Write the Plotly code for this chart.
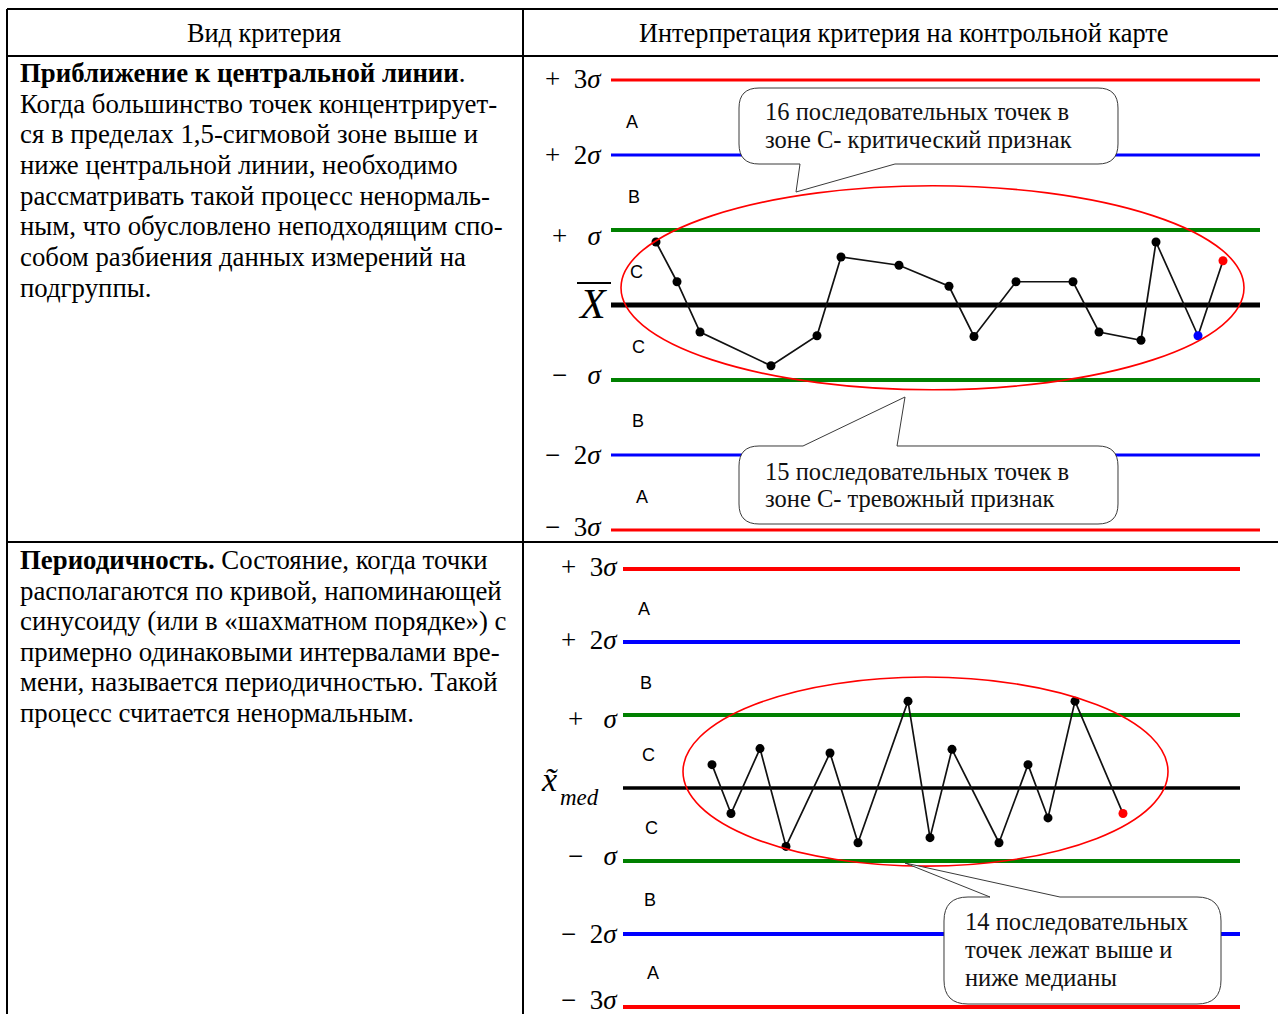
import plotly.graph_objects as go

W, H = 1278, 1014

# ---------------- data ----------------
# control limit levels (in sigma units) and their colours
limit_levels = [3, 2, 1, 0, -1, -2, -3]
limit_colors = ["#ff0000", "#0000ff", "#008000", "#000000", "#008000", "#0000ff", "#ff0000"]
limit_labels = ["+&nbsp;&nbsp;3<i>σ</i>", "+&nbsp;&nbsp;2<i>σ</i>", "+&nbsp;&nbsp;&nbsp;<i>σ</i>", "",
                "−&nbsp;&nbsp;&nbsp;<i>σ</i>", "−&nbsp;&nbsp;2<i>σ</i>", "−&nbsp;&nbsp;3<i>σ</i>"]
zone_labels = ["A", "B", "C", "C", "B", "A"]

# chart 1: approach to the centre line (16 points)
c1_x = [45, 66, 89, 160, 206, 230, 288, 338, 363, 405, 462, 488, 530, 545, 587, 612]
c1_y = [0.84, 0.31, -0.36, -0.81, -0.41, 0.64, 0.53, 0.25, -0.42, 0.31, 0.31, -0.36, -0.47, 0.84, -0.41, 0.59]
c1_pt_colors = ["black"] * 14 + ["#0000ff", "#ff0000"]
c1_span = [0, 649]

# chart 2: periodicity (14 points)
c2_x = [89, 108, 137, 163, 207, 235, 285, 307, 329, 376, 405, 425, 452, 500]
c2_y = [0.32, -0.35, 0.54, -0.80, 0.48, -0.75, 1.19, -0.68, 0.53, -0.75, 0.32, -0.41, 1.19, -0.35]
c2_pt_colors = ["black"] * 13 + ["#ff0000"]
c2_span = [0, 617]

header = ["Вид критерия", "Интерпретация критерия на контрольной карте"]
row1_text = [
    "<b>Приближение к центральной линии</b>.",
    "Когда большинство точек концентрирует-",
    "ся в пределах 1,5-сигмовой зоне выше и",
    "ниже центральной линии, необходимо",
    "рассматривать такой процесс ненормаль-",
    "ным, что обусловлено неподходящим спо-",
    "собом разбиения данных измерений на",
    "подгруппы.",
]
row2_text = [
    "<b>Периодичность.</b> Состояние, когда точки",
    "располагаются по кривой, напоминающей",
    "синусоиду (или в «шахматном порядке») с",
    "примерно одинаковыми интервалами вре-",
    "мени, называется периодичностью. Такой",
    "процесс считается ненормальным.",
]
callout1 = ["16 последовательных точек в", "зоне С- критический признак"]
callout2 = ["15 последовательных точек в", "зоне С- тревожный признак"]
callout3 = ["14 последовательных", "точек лежат выше и", "ниже медианы"]

SERIF = "Liberation Serif, Times New Roman, serif"
SANS = "Liberation Sans, Arial, sans-serif"


def px(x):
    return x / W


def py(y):
    return 1 - y / H


fig = go.Figure()

# ---------------- control lines ----------------
c1_widths = [3, 3, 4, 5, 4, 3, 3]
c2_widths = [4, 4, 4, 3.5, 4, 4, 4]
for lvl, col, w in zip(limit_levels, limit_colors, c1_widths):
    fig.add_trace(go.Scatter(x=c1_span, y=[lvl, lvl], mode="lines", line=dict(color=col, width=w),
                             xaxis="x", yaxis="y", hoverinfo="skip", showlegend=False))
for lvl, col, w in zip(limit_levels, limit_colors, c2_widths):
    fig.add_trace(go.Scatter(x=c2_span, y=[lvl, lvl], mode="lines", line=dict(color=col, width=w),
                             xaxis="x2", yaxis="y2", hoverinfo="skip", showlegend=False))

# ---------------- data series ----------------
fig.add_trace(go.Scatter(x=c1_x, y=c1_y, mode="lines+markers",
                         line=dict(color="#111111", width=1.7),
                         marker=dict(color=c1_pt_colors, size=9),
                         xaxis="x", yaxis="y", hoverinfo="skip", showlegend=False))
fig.add_trace(go.Scatter(x=c2_x, y=c2_y, mode="lines+markers",
                         line=dict(color="#111111", width=1.7),
                         marker=dict(color=c2_pt_colors, size=9),
                         xaxis="x2", yaxis="y2", hoverinfo="skip", showlegend=False))

shapes = []
annotations = []

# ellipses around the points
shapes.append(dict(type="circle", xref="x", yref="y", x0=10, x1=633, y0=-1.13, y1=1.59,
                   line=dict(color="#ff0000", width=1.6), layer="above"))
shapes.append(dict(type="circle", xref="x2", yref="y2", x0=60, x1=545, y0=-1.07, y1=1.52,
                   line=dict(color="#ff0000", width=1.6), layer="above"))


def P(x, y):
    return f"{px(x):.5f},{py(y):.5f}"


def callout(l, t, r, b, rad, side, bx1, bx2, tipx, tipy):
    s = f"M {P(l + rad, t)} "
    if side == "top":
        s += f"L {P(bx1, t)} L {P(tipx, tipy)} L {P(bx2, t)} "
    s += f"L {P(r - rad, t)} Q {P(r, t)} {P(r, t + rad)} L {P(r, b - rad)} Q {P(r, b)} {P(r - rad, b)} "
    if side == "bottom":
        s += f"L {P(bx2, b)} L {P(tipx, tipy)} L {P(bx1, b)} "
    s += f"L {P(l + rad, b)} Q {P(l, b)} {P(l, b - rad)} L {P(l, t + rad)} Q {P(l, t)} {P(l + rad, t)} Z"
    return dict(type="path", xref="paper", yref="paper", path=s, fillcolor="white",
                line=dict(color="#3a3a3a", width=1), layer="above")


shapes.append(callout(739, 88, 1118, 164, 20, "bottom", 800, 895, 796, 192))
shapes.append(callout(739, 446, 1118, 524, 20, "top", 803, 897, 905, 397))
shapes.append(callout(944, 897, 1221, 1004, 24, "top", 990, 1060, 905, 863))

# overline of X-bar
shapes.append(dict(type="line", xref="paper", yref="paper", x0=px(577), x1=px(611), y0=py(283), y1=py(283),
                   line=dict(color="black", width=2)))

# table lines
tl = dict(color="black", width=2)
for (x0, y0, x1, y1) in [(7, 9, 1278, 9), (7, 56, 1278, 56), (7, 542, 1278, 542),
                         (7, 9, 7, 1014), (523, 9, 523, 1014)]:
    shapes.append(dict(type="line", xref="paper", yref="paper", x0=px(x0), y0=py(y0), x1=px(x1), y1=py(y1),
                       line=tl, layer="above"))


def txt(x, y, text, size, font=SERIF, xanchor="left", color="black"):
    annotations.append(dict(xref="paper", yref="paper", x=px(x), y=py(y), text=text, showarrow=False,
                            xanchor=xanchor, yanchor="middle", font=dict(family=font, size=size, color=color)))


# header
txt(264, 33, header[0], 26.3, xanchor="center")
txt(903, 33, header[1], 26.3, xanchor="center")

# left column texts
for i, t in enumerate(row1_text):
    txt(18, 73 + 30.7 * i, t, 26.8)
for i, t in enumerate(row2_text):
    txt(18, 560 + 30.6 * i, t, 26.8)

# sigma labels chart 1
c1_label_y = [79, 155, 236, None, 375, 455, 527]
for lab, yy in zip(limit_labels, c1_label_y):
    if lab:
        txt(604, yy, lab, 27, xanchor="right")
txt(593, 304, "<i>X</i>", 42, xanchor="center")

# sigma labels chart 2
c2_label_y = [567, 640, 719, None, 856, 934, 1000]
for lab, yy in zip(limit_labels, c2_label_y):
    if lab:
        txt(620, yy, lab, 27, xanchor="right")
txt(549, 779, "<i>x̃</i>", 34, xanchor="center")
txt(579, 797, "<i>med</i>", 23, xanchor="center")

# zone letters
for lab, xx, yy in zip(zone_labels, [632, 634, 636, 638, 638, 642], [122, 197, 272, 347, 421, 497]):
    txt(xx, yy, lab, 18, font=SANS, xanchor="center")
for lab, xx, yy in zip(zone_labels, [644, 646, 648, 651, 650, 653], [609, 683, 755, 828, 900, 973]):
    txt(xx, yy, lab, 18, font=SANS, xanchor="center")

# callout texts
for i, t in enumerate(callout1):
    txt(763, 111 + 28 * i, t, 24.5, color="#111111")
for i, t in enumerate(callout2):
    txt(763, 471 + 28 * i, t, 24.5, color="#111111")
for i, t in enumerate(callout3):
    txt(963, 921 + 28 * i, t, 24.5, color="#111111")

ax_common = dict(visible=False, showgrid=False, zeroline=False, fixedrange=True)
fig.update_layout(
    width=W, height=H, autosize=False,
    margin=dict(l=0, r=0, t=0, b=0),
    paper_bgcolor="white", plot_bgcolor="rgba(0,0,0,0)",
    xaxis=dict(domain=[523 / W, 1.0], range=[-88, 667], anchor="y", **ax_common),
    yaxis=dict(domain=[1 - 542 / H, 1 - 57 / H], range=[(305 - 542) / 75, (305 - 57) / 75], anchor="x", **ax_common),
    xaxis2=dict(domain=[523 / W, 1.0], range=[-100, 655], anchor="y2", **ax_common),
    yaxis2=dict(domain=[0, 1 - 542 / H], range=[(788 - 1014) / 73, (788 - 542) / 73], anchor="x2", **ax_common),
    shapes=shapes,
    annotations=annotations,
    showlegend=False,
)

fig.write_html("out.html", config={"displayModeBar": False})

# remove default page margins so the figure sits at the window's top-left corner
with open("out.html", encoding="utf-8") as f:
    html = f.read()
html = html.replace("<head>", "<head><style>html,body{margin:0;padding:0;overflow:hidden;}</style>", 1)
with open("out.html", "w", encoding="utf-8") as f:
    f.write(html)
